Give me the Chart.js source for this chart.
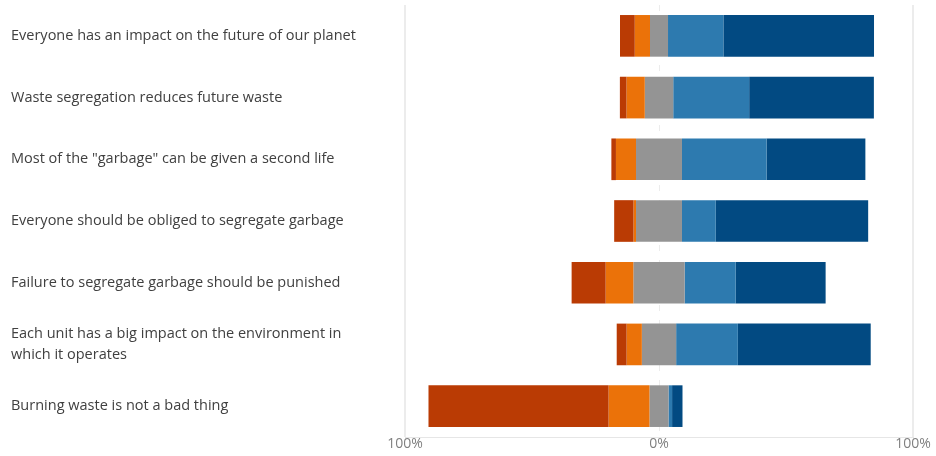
<!DOCTYPE html>
<html>
<head>
<meta charset="utf-8">
<script src="https://cdn.jsdelivr.net/npm/chart.js@4/dist/chart.umd.min.js"></script>
<style>
  html, body { margin: 0; padding: 0; background: #fff; }
  #wrap { width: 936px; height: 456px; position: relative; }
</style>
</head>
<body>
<div id="wrap"><canvas id="c" width="936" height="456"></canvas></div>
<script>
const categories = [
  "Everyone has an impact on the future of our planet",
  "Waste segregation reduces future waste",
  "Most of the \"garbage\" can be given a second life",
  "Everyone should be obliged to segregate garbage",
  "Failure to segregate garbage should be punished",
  ["Each unit has a big impact on the environment in", "which it operates"],
  "Burning waste is not a bad thing"
];
// percentages of answers per statement (left to right)
const stronglyDisagree = [5.8, 2.6, 1.8, 7.6, 13.4, 3.9, 70.9];
const disagree         = [6.0, 7.2, 7.9, 1.0, 10.9, 6.0, 16.1];
const neutral          = [7.1, 11.2, 18.1, 18.1, 20.2, 13.5, 7.5];
const agree            = [21.8, 29.9, 33.3, 13.3, 20.1, 24.3, 1.4];
const stronglyAgree    = [59.3, 49.1, 38.9, 60.0, 35.4, 52.3, 4.1];
const tickValues = [-100, 0, 100];

const FONT = "'Open Sans', 'Noto Sans', sans-serif";

// Diverging layout: neutral centred on 0, negatives to the left, positives to the right
const segNeutral = neutral.map(g => [-g / 2, g / 2]);
const segDisagree = neutral.map((g, i) => [-g / 2 - disagree[i], -g / 2]);
const segStrongDis = neutral.map((g, i) => [-g / 2 - disagree[i] - stronglyDisagree[i], -g / 2 - disagree[i]]);
const segAgree = neutral.map((g, i) => [g / 2, g / 2 + agree[i]]);
const segStrongAgree = neutral.map((g, i) => [g / 2 + agree[i], g / 2 + agree[i] + stronglyAgree[i]]);

const ds = (label, data, color) => ({
  label, data, backgroundColor: color, borderWidth: 0,
  barPercentage: 0.675, categoryPercentage: 1.0, grouped: false
});

new Chart(document.getElementById('c'), {
  type: 'bar',
  data: {
    labels: categories,
    datasets: [
      ds('Strongly disagree', segStrongDis, '#BA3B04'),
      ds('Disagree', segDisagree, '#EB7209'),
      ds('Neutral', segNeutral, '#949494'),
      ds('Agree', segAgree, '#2D7AAF'),
      ds('Strongly agree', segStrongAgree, '#024A82')
    ]
  },
  options: {
    indexAxis: 'y',
    responsive: false,
    animation: false,
    layout: { padding: { left: 11, right: 23, top: 5, bottom: 0 } },
    plugins: { legend: { display: false }, tooltip: { enabled: false } },
    scales: {
      x: {
        min: -100, max: 100,
        afterBuildTicks: s => { s.ticks = tickValues.map(v => ({ value: v })); },
        afterFit: s => { s.height = 19; s.paddingLeft = 0; s.paddingRight = 0; },
        ticks: {
          callback: v => Math.abs(v) + '%',
          color: '#808080',
          font: { family: FONT, size: 14 },
          padding: -1,
          maxRotation: 0
        },
        grid: {
          color: '#ececec',
          lineWidth: ctx => (ctx.tick && ctx.tick.value === 0) ? 1 : 2,
          drawTicks: false
        },
        border: {
          display: true,
          color: '#e6e6e6',
          width: 1,
          dash: ctx => (ctx.tick && ctx.tick.value === 0) ? [6, 9] : []
        }
      },
      y: {
        afterFit: s => { s.width = 394; s.paddingTop = 0; s.paddingBottom = 0; },
        grid: { display: false },
        border: { display: false },
        ticks: {
          crossAlign: 'far',
          color: '#404040',
          font: { family: FONT, size: 14.5, lineHeight: 1.45 },
          padding: 0
        }
      }
    }
  }
});
</script>
</body>
</html>
